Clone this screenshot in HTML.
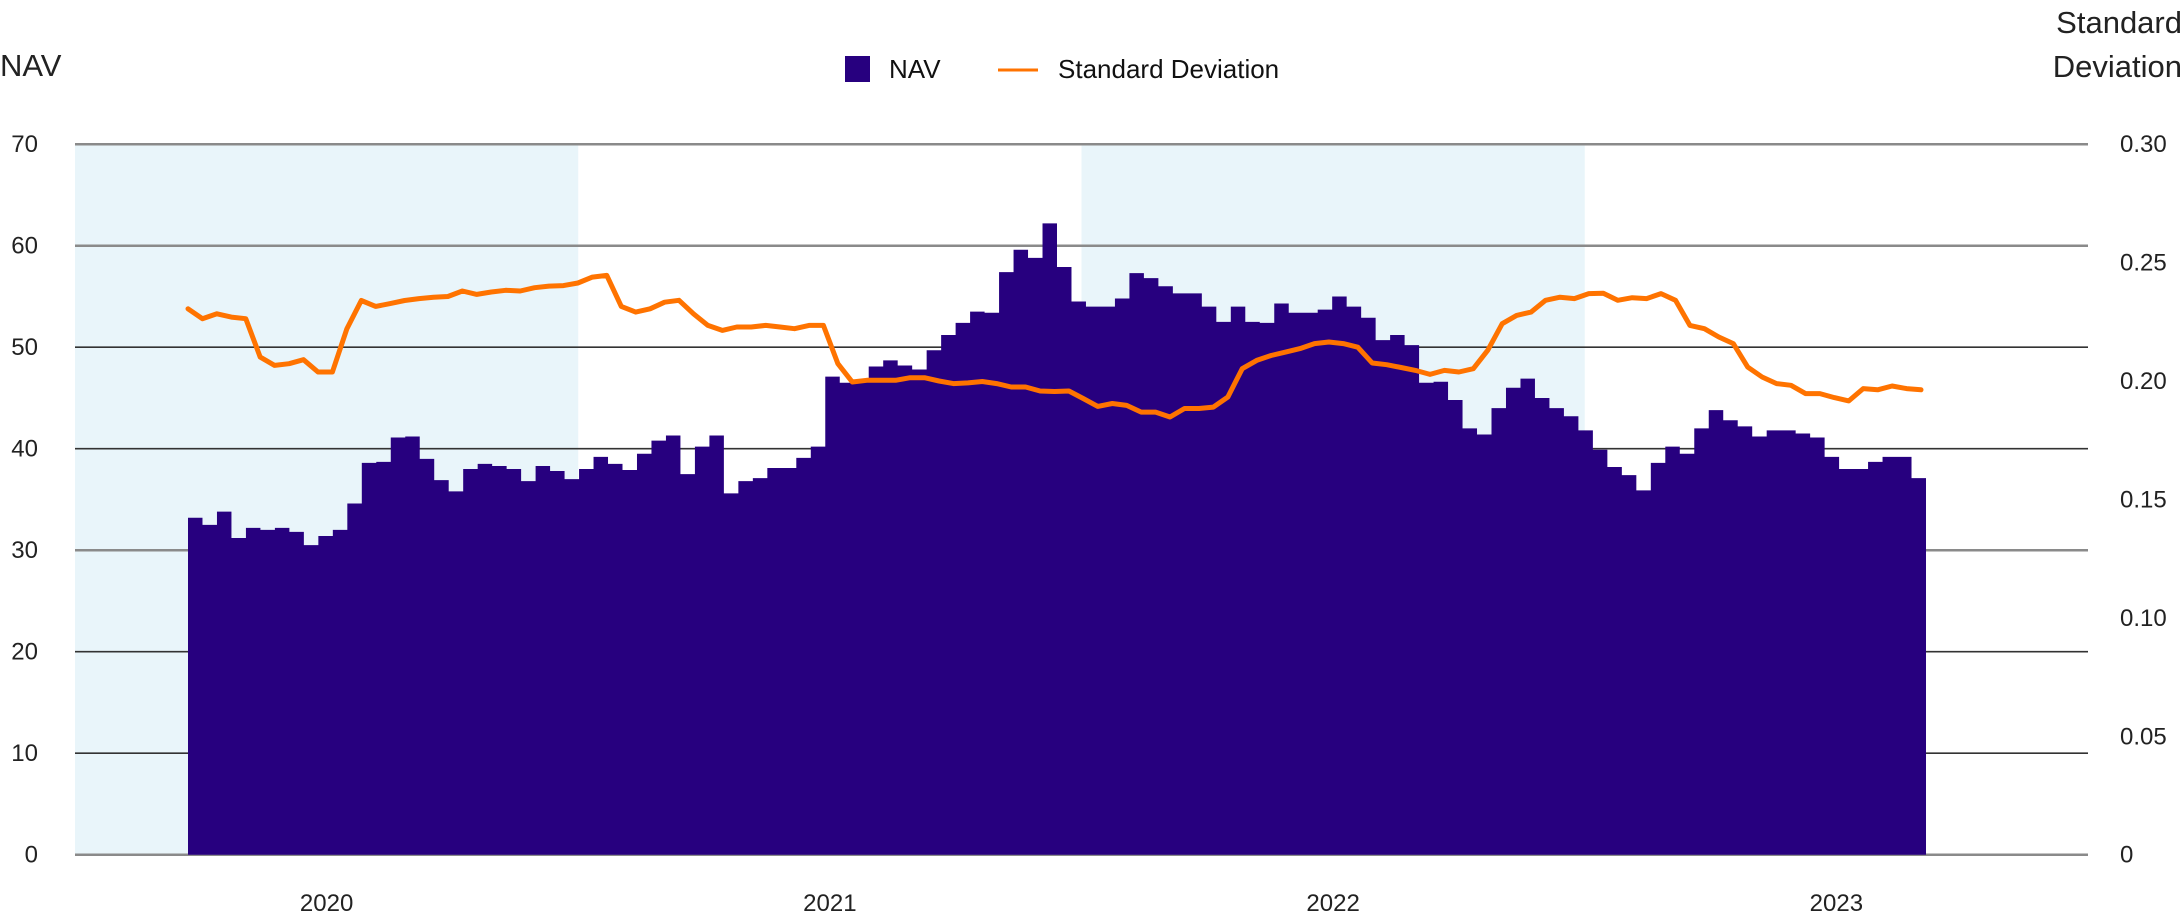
<!DOCTYPE html>
<html><head><meta charset="utf-8"><style>
html,body{margin:0;padding:0;background:#fff;}
svg{display:block;font-family:"Liberation Sans",sans-serif;}
</style></head><body>
<svg id="chart" width="2184" height="919" viewBox="0 0 2184 919" xmlns="http://www.w3.org/2000/svg">
<g id="bands"></g>
<g id="grid"></g>
<g id="navArea"></g>
<g id="stdLine"></g>
<g id="axes"></g>
<text x="0" y="76" font-size="31" fill="#222">NAV</text>
<text x="2182" y="33" font-size="31" fill="#222" text-anchor="end">Standard</text>
<text x="2182" y="77" font-size="31" fill="#222" text-anchor="end">Deviation</text>
<g>
<rect x="845" y="56" width="25" height="26" fill="#27007f"/>
<text x="889" y="78" font-size="26" fill="#111">NAV</text>
<line x1="998" y1="70" x2="1038" y2="70" stroke="#ff7300" stroke-width="3"/>
<text x="1058" y="78" font-size="26" fill="#111">Standard Deviation</text>
</g>
</svg>
<script>
const years = ["2020","2021","2022","2023"];
const leftTicks = [0,10,20,30,40,50,60,70];
const rightTicks = ["0","0.05","0.10","0.15","0.20","0.25","0.30"];
const navValues = [33.2,32.5,33.8,31.2,32.2,32,32.2,31.8,30.5,31.4,32,34.6,38.6,38.7,41.1,41.2,39,36.9,35.8,38,38.5,38.3,38,36.8,38.3,37.8,37,38,39.2,38.5,37.9,39.5,40.8,41.3,37.5,
40.2,41.3,35.6,36.8,37.1,38.1,38.1,39.1,40.2,47.1,46.5,46.8,48.1,48.7,48.2,47.8,49.7,51.2,52.4,53.5,53.4,57.4,59.6,58.8,62.2,57.9,54.5,54,54,54.8,57.3,56.8,
56,55.3,55.3,54,52.5,54,52.5,52.4,54.3,53.4,53.4,53.7,55,54,52.9,50.7,51.2,50.2,46.5,46.6,44.8,42,41.4,
44,46,46.9,45,44,43.2,41.8,39.9,38.2,37.4,35.9,38.6,40.2,39.5,42,43.8,42.8,42.2,41.2,41.8,41.8,41.5,41.1,39.2,38,38,38.7,39.2,39.2,37.1];
const stdValues = [0.2305,0.2263,0.2284,0.2270,0.2263,0.2101,0.2066,0.2073,0.2090,0.2038,0.2038,0.2221,0.2340,0.2315,0.2327,0.2340,0.2348,0.2354,0.2357,0.2380,0.2366,0.2376,0.2383,0.2380,0.2394,0.2401,0.2403,0.2414,0.2439,0.2446,0.2315,0.2291,0.2305,0.2333,
0.2341,0.2284,0.2235,0.2214,0.2228,0.2228,0.2235,0.2228,0.2221,0.2235,0.2235,0.2073,0.1996,0.2003,0.2003,0.2003,0.2014,0.2014,0.2000,0.1989,0.1992,0.1998,0.1989,0.1975,0.1975,0.1958,0.1956,0.1958,0.1926,0.1893,0.1905,0.1897,0.1869,
0.1869,0.1848,0.1884,0.1884,0.1890,0.1932,0.2052,0.2087,0.2108,0.2122,0.2137,0.2158,0.2165,0.2158,0.2143,0.2076,0.2069,0.2057,0.2045,0.2028,0.2045,0.2038,0.2052,
0.2130,0.2242,0.2277,0.2291,0.2341,0.2354,0.2348,0.2369,0.2371,0.2341,0.2352,0.2348,0.2369,0.2341,0.2235,0.2221,0.2186,0.2158,0.2059,0.2017,0.1989,0.1982,0.1947,0.1947,0.1930,0.1916,0.1968,0.1963,0.1979,0.1968,0.1963];

const NS = "http://www.w3.org/2000/svg";
const plotL = 75, plotR = 2088, y0 = 854.7, y70 = 144.2;
const navStart = 188, navEnd = 1926, stdEnd = 1921;
function yNav(v){ return y0 - (v/70)*(y0-y70); }
function yStd(s){ return y0 - (s/0.30)*(y0-y70); }
function xYear(i){ return plotL + i*(plotR-plotL)/years.length; }
function xNav(i){ return navStart + i*(navEnd-navStart)/navValues.length; }
function xStd(i){ return navStart + i*(stdEnd-navStart)/(stdValues.length-1); }
function mk(tag, attrs, parent){ const e=document.createElementNS(NS,tag); for(const k in attrs) e.setAttribute(k,attrs[k]); parent.appendChild(e); return e; }

const bands = document.getElementById('bands');
years.forEach((y,i)=>{
  if(i%2===0){
    const r = mk('rect',{x:xYear(i),y:y70,width:xYear(i+1)-xYear(i),height:y0-y70,fill:'#e9f5fa'},bands);
    
    
  }
});
const grid = document.getElementById('grid');
leftTicks.forEach(v=>{
  const gray = (v===70||v===60||v===30||v===0);
  const l = mk('line',{x1:plotL,x2:plotR,y1:yNav(v),y2:yNav(v),stroke:gray?'#8a8a8a':'#333','stroke-width':gray?2.5:1.6},grid);
  
  
});
// NAV stepped area
const navG = document.getElementById('navArea');
let d = 'M' + xNav(0) + ' ' + y0;
navValues.forEach((v,i)=>{ d += ' L' + xNav(i) + ' ' + yNav(v) + ' L' + xNav(i+1) + ' ' + yNav(v); });
d += ' L' + xNav(navValues.length) + ' ' + y0 + ' Z';
const area = mk('path',{d:d,fill:'#27007f'},navG);


// Std line
const stdG = document.getElementById('stdLine');
const pts = stdValues.map((s,i)=> xStd(i).toFixed(1)+','+yStd(s).toFixed(1)).join(' ');
const pl = mk('polyline',{points:pts,fill:'none',stroke:'#ff7300','stroke-width':5,'stroke-linejoin':'round','stroke-linecap':'round'},stdG);


// Axes labels
const axes = document.getElementById('axes');
leftTicks.forEach(v=>{
  const t = mk('text',{x:38,y:yNav(v)+8,'font-size':24,fill:'#222','text-anchor':'end'},axes);
  t.textContent = v;
  
  
});
rightTicks.forEach((lab,i)=>{
  const t = mk('text',{x:2120,y:yStd(i*0.05)+8,'font-size':24,fill:'#222'},axes);
  t.textContent = lab;
  
  
});
years.forEach((y,i)=>{
  const t = mk('text',{x:(xYear(i)+xYear(i+1))/2,y:911,'font-size':24,fill:'#222','text-anchor':'middle'},axes);
  t.textContent = y;
  
  
});
</script>
</body></html>
